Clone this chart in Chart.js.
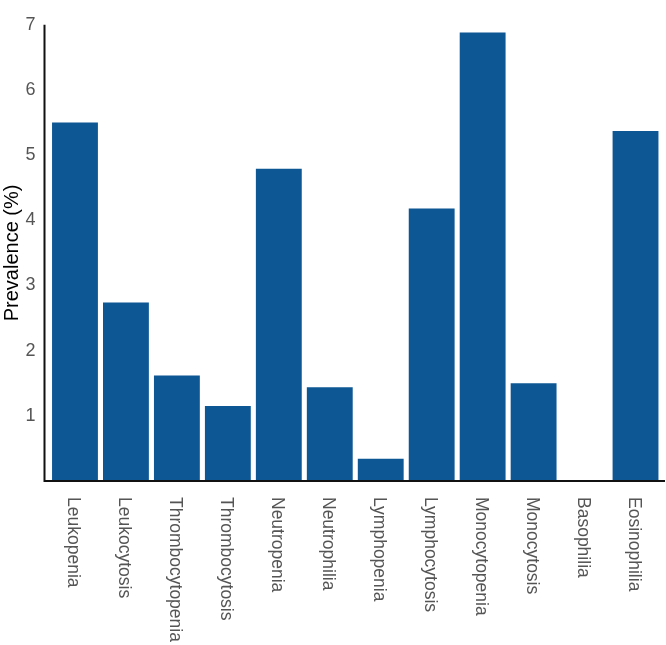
<!DOCTYPE html>
<html>
<head>
<meta charset="utf-8">
<script src="https://cdn.jsdelivr.net/npm/chart.js@4"></script>
<style>
    html, body { margin: 0; padding: 0; background: #fff; }
    #wrap { width: 666px; height: 645px; }
</style>
</head>
<body>
<div id="wrap"><canvas id="chart" width="666" height="645"></canvas></div>
<script>
// categories and prevalence values (%)
const categories = ['Leukopenia', 'Leukocytosis', 'Thrombocytopenia', 'Thrombocytosis',
    'Neutropenia', 'Neutrophilia', 'Lymphopenia', 'Lymphocytosis',
    'Monocytopenia', 'Monocytosis', 'Basophilia', 'Eosinophilia'];
const prevalence = [5.5, 2.74, 1.62, 1.15, 4.79, 1.44, 0.34, 4.18, 6.88, 1.5, 0, 5.37];
const yTicks = [1, 2, 3, 4, 5, 6, 7];

const BAR_COLOR = '#0c5794';
const LABEL_COLOR = '#555555';
const FONT = 'Liberation Sans, Arial, sans-serif';

// axis lines + rotated category labels (clockwise, reading top to bottom)
const axesPlugin = {
    id: 'axesPlugin',
    afterDraw(chart) {
        const ctx = chart.ctx;
        const area = chart.chartArea;
        const xScale = chart.scales.x;
        ctx.save();
        ctx.strokeStyle = '#111';
        ctx.lineWidth = 2;
        ctx.beginPath();
        ctx.moveTo(area.left - 5, area.top);
        ctx.lineTo(area.left - 5, area.bottom);
        ctx.lineTo(area.right + 4, area.bottom);
        ctx.stroke();

        ctx.fillStyle = LABEL_COLOR;
        ctx.font = '17.5px ' + FONT;
        ctx.textAlign = 'left';
        ctx.textBaseline = 'middle';
        categories.forEach((label, i) => {
            const x = xScale.getPixelForValue(i);
            ctx.save();
            ctx.translate(x - 2, area.bottom + 16);
            ctx.rotate(Math.PI / 2);
            ctx.fillText(label, 0, 0);
            ctx.restore();
        });
        ctx.restore();
    }
};

new Chart(document.getElementById('chart'), {
    type: 'bar',
    data: {
        labels: categories,
        datasets: [{
            data: prevalence,
            backgroundColor: BAR_COLOR,
            borderWidth: 0,
            barPercentage: 0.9,
            categoryPercentage: 1.0
        }]
    },
    options: {
        responsive: false,
        animation: false,
        layout: { padding: { top: 7, right: 5, left: 0, bottom: 0 } },
        plugins: {
            legend: { display: false },
            tooltip: { enabled: false }
        },
        scales: {
            x: {
                grid: { display: false },
                border: { display: false },
                ticks: { display: false },
                afterFit(scale) { scale.height = 164; }
            },
            y: {
                min: 0,
                max: 7,
                afterBuildTicks(scale) {
                    scale.ticks = yTicks.map(v => ({ value: v }));
                },
                grid: { display: false, drawTicks: false },
                border: { display: false },
                ticks: {
                    color: LABEL_COLOR,
                    font: { family: FONT, size: 18 },
                    padding: 14
                },
                title: {
                    display: true,
                    text: 'Prevalence (%)',
                    color: '#000',
                    font: { family: FONT, size: 20 },
                    padding: { top: 0, bottom: 0 }
                },
                afterFit(scale) { scale.width = 49.5; }
            }
        }
    },
    plugins: [axesPlugin]
});
</script>
</body>
</html>
